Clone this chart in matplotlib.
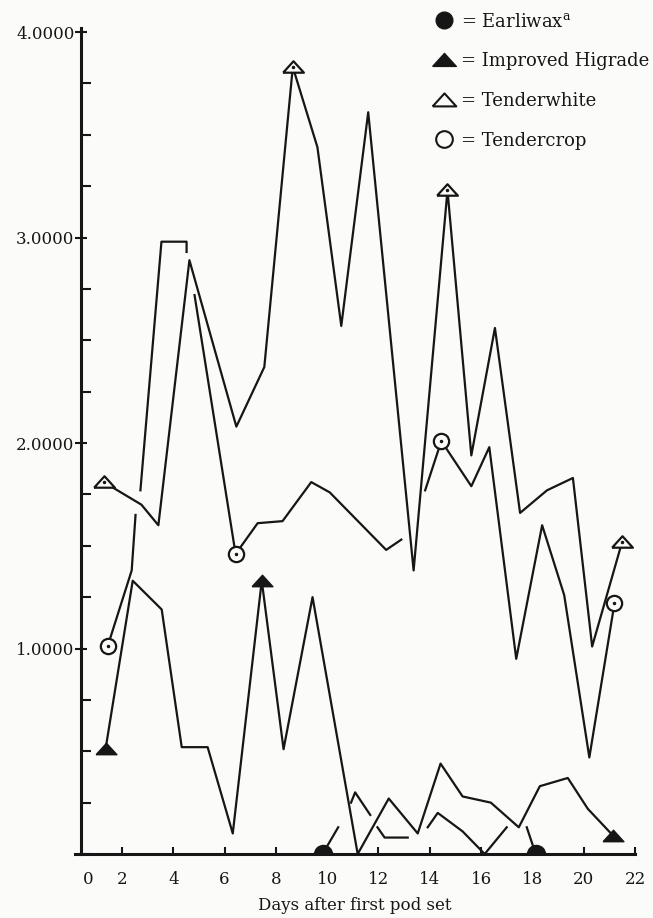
import numpy as np
import matplotlib.pyplot as plt
from matplotlib.lines import Line2D
from matplotlib.ticker import MultipleLocator

nan = np.nan

# Earliwax (filled circle) - the hand drawn line has gaps
ew_day = [9.82, 10.43, nan, 10.93, 11.09, 11.68, nan, 11.96, 12.24, 13.14, nan,
          13.92, 14.31, 15.28, 16.14, 17.00, nan, 17.78, 18.13]
ew_val = [0.00, 0.13, nan, 0.25, 0.30, 0.19, nan, 0.13, 0.08, 0.08, nan,
          0.13, 0.20, 0.11, 0.00, 0.13, nan, 0.13, 0.00]
ew_marks = [0, 18]

# Improved Higrade (filled triangle)
hg_day = [1.36, 2.42, 3.55, 4.33, 5.34, 6.32, 7.45, 8.30, 9.43, 11.19,
          12.40, 13.53, 14.42, 15.28, 16.38, 17.47, 18.29, 19.38, 20.16, 21.14]
hg_val = [0.51, 1.33, 1.19, 0.52, 0.52, 0.10, 1.33, 0.51, 1.25, 0.00,
          0.27, 0.10, 0.44, 0.28, 0.25, 0.13, 0.33, 0.37, 0.22, 0.09]
hg_marks = [0, 6, 19]

# Tenderwhite (open triangle)
tw_day = [1.29, 2.76, 3.42, 4.63, 6.46, 7.55, 8.66, 9.62, 10.55, 11.60,
          13.37, 14.69, 15.62, 16.54, 17.52, 18.57, 19.58, 20.33, 21.50]
tw_val = [1.81, 1.70, 1.60, 2.89, 2.08, 2.37, 3.83, 3.44, 2.57, 3.61,
          1.38, 3.23, 1.94, 2.56, 1.66, 1.77, 1.83, 1.01, 1.52]
tw_marks = [0, 6, 11, 18]

# Tendercrop (open circle)
tc_day = [1.44, 2.38, 2.53, nan, 2.72, 3.54, 4.52, 4.52, nan, 4.83, 6.43,
          7.29, 8.26, 9.38, 10.10, 12.30, 12.89, nan, 13.82, 14.45, 15.62,
          16.32, 17.37, 18.38, 19.24, 20.22, 21.20]
tc_val = [1.01, 1.38, 1.65, nan, 1.77, 2.98, 2.98, 2.93, nan, 2.72, 1.46,
          1.61, 1.62, 1.81, 1.76, 1.48, 1.53, nan, 1.77, 2.01, 1.79,
          1.98, 0.95, 1.60, 1.26, 0.47, 1.22]
tc_marks = [0, 10, 19, 26]

x_ticks = [0.68, 2, 4, 6, 8, 10, 12, 14, 16, 18, 20, 22]
x_labels = ['0', '2', '4', '6', '8', '10', '12', '14', '16', '18', '20', '22']
y_ticks = [1, 2, 3, 4]
y_labels = ['1.0000', '2.0000', '3.0000', '4.0000']

ink = '#161616'
paper = '#fbfbf9'
plt.rcParams['font.family'] = ['DejaVu Serif']

fig = plt.figure(figsize=(6.53, 9.18), dpi=100, facecolor=paper)
ax = fig.add_axes([75 / 653, 64 / 918, 560 / 653, 826 / 918])
ax.set_facecolor(paper)

# flattened triangle like the hand drawn ones
tri = [(-1, -0.5), (1, -0.5), (0, 0.6), (-1, -0.5)]

lw = 1.6
ax.plot(tw_day, tw_val, color=ink, lw=lw)
ax.plot(tc_day, tc_val, color=ink, lw=lw)
ax.plot(hg_day, hg_val, color=ink, lw=lw)
ax.plot(ew_day, ew_val, color=ink, lw=lw)

ax.plot(tw_day, tw_val, ls='none', marker=tri, ms=15, mfc=paper, mec=ink,
        mew=1.6, markevery=tw_marks, zorder=3)
ax.plot(tw_day, tw_val, ls='none', marker='.', ms=3, color=ink,
        markevery=tw_marks, zorder=4)
ax.plot(tc_day, tc_val, ls='none', marker='o', ms=11, mfc=paper, mec=ink,
        mew=1.6, markevery=tc_marks, zorder=3)
ax.plot(tc_day, tc_val, ls='none', marker='.', ms=3, color=ink,
        markevery=tc_marks, zorder=4)
ax.plot(hg_day, hg_val, ls='none', marker=tri, ms=15, color=ink,
        markevery=hg_marks, zorder=3)
ax.plot(ew_day, ew_val, ls='none', marker='o', ms=13, color=ink,
        markevery=ew_marks, zorder=3)

ax.set_xlim(0.17, 22.0)
ax.set_ylim(0, 4.02)

ax.spines['top'].set_visible(False)
ax.spines['right'].set_visible(False)
ax.spines['left'].set_position(('data', 0.42))
for s in ['left', 'bottom']:
    ax.spines[s].set_linewidth(2.2)
    ax.spines[s].set_color(ink)
    ax.spines[s].set_zorder(5)

ax.set_xticks(x_ticks)
ax.set_xticklabels(x_labels)
ax.set_yticks(y_ticks)
ax.set_yticklabels(y_labels)
ax.yaxis.set_minor_locator(MultipleLocator(0.25))
ax.tick_params(axis='x', direction='in', length=5, width=1.5, color=ink,
               labelsize=12, labelcolor=ink, pad=12)
ax.tick_params(axis='y', which='major', direction='inout', length=8,
               width=1.5, color=ink, labelsize=12, labelcolor=ink, pad=1)
ax.tick_params(axis='y', which='minor', direction='in', length=7,
               width=1.5, color=ink)
ax.xaxis.get_major_ticks()[0].tick1line.set_visible(False)

ax.set_xlabel('Days after first pod set', fontsize=12, color=ink, labelpad=7)

handles = [
    Line2D([], [], ls='none', marker='o', ms=12, color=ink),
    Line2D([], [], ls='none', marker=tri, ms=17, color=ink),
    Line2D([], [], ls='none', marker=tri, ms=17, mfc=paper, mec=ink, mew=1.5),
    Line2D([], [], ls='none', marker='o', ms=12, mfc=paper, mec=ink, mew=1.5),
]
labels = ['= Earliwax$^{\\mathregular{a}}$', '= Improved Higrade',
          '= Tenderwhite', '= Tendercrop']
leg = fig.legend(handles, labels, loc='upper right',
                 bbox_to_anchor=(1.006, 0.994), frameon=False, fontsize=13,
                 labelspacing=1.2, handletextpad=0.3, handlelength=1.3,
                 borderaxespad=0.0)
for t in leg.get_texts():
    t.set_color(ink)

fig.savefig('out.png', dpi=100, facecolor=paper)
